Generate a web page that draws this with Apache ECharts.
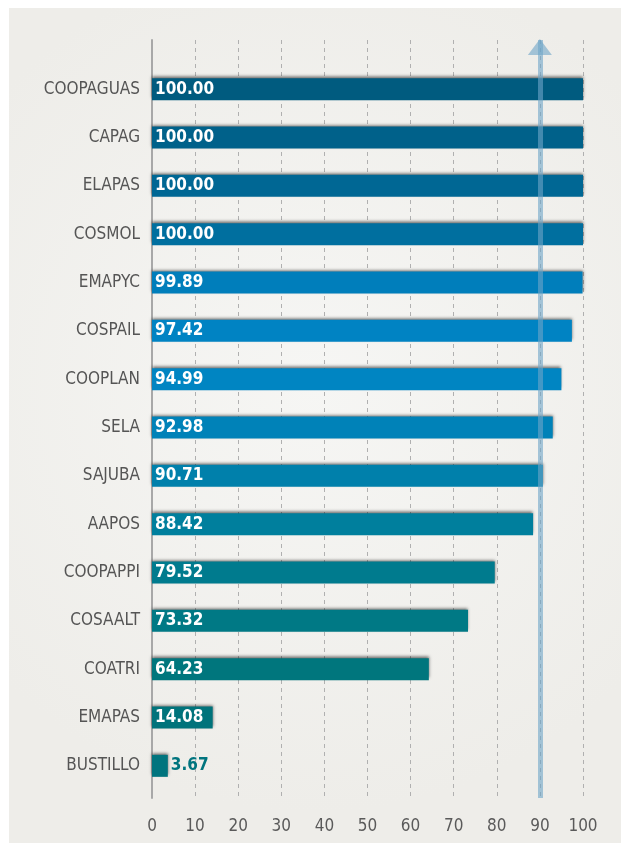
<!DOCTYPE html>
<html><head><meta charset="utf-8">
<script src="https://cdn.jsdelivr.net/npm/echarts@6/dist/echarts.min.js"></script>
<style>html,body{margin:0;padding:0;background:#fff}#c{width:621px;height:844px}</style>
</head><body><div id="c"></div>
<script>
const categories = ["COOPAGUAS","CAPAG","ELAPAS","COSMOL","EMAPYC","COSPAIL","COOPLAN","SELA","SAJUBA","AAPOS","COOPAPPI","COSAALT","COATRI","EMAPAS","BUSTILLO"];
const values = [100.00,100.00,100.00,100.00,99.89,97.42,94.99,92.98,90.71,88.42,79.52,73.32,64.23,14.08,3.67];
const barColors = ["#005b7f","#00618a","#006794","#006f9f","#007ebb","#0083c3","#0085c2","#0082b8","#0080ab","#007f9d","#007b8e","#007985","#00767d","#00737b","#00747e"];
const xTicks = [0,10,20,30,40,50,60,70,80,90,100];
const targetValue = 90;

const FONT = '"Liberation Sans Narrow","DejaVu Sans Condensed","Roboto Condensed",sans-serif';
const chart = echarts.init(document.getElementById('c'), null, {renderer:'canvas'});
chart.setOption({
  backgroundColor:'#ffffff',
  animation:false,
  graphic:[{type:'rect', z:-10, shape:{x:9,y:8,width:612,height:835},
    style:{fill:new echarts.graphic.RadialGradient(0.5,0.45,0.7,[{offset:0,color:'#f6f6f4'},{offset:1,color:'#eeede9'}])}}],
  grid:[
    {left:152,right:38,top:40,bottom:46},
    {left:152,right:38,top:65,bottom:54}
  ],
  xAxis:[
    {type:'value',gridIndex:0,min:0,max:100,interval:10,
     axisLine:{show:false},axisTick:{show:false},
     axisLabel:{margin:20,color:'#5a5a5a',fontSize:17,fontFamily:FONT,
       formatter:v=>xTicks.includes(v)?String(v):''},
     splitLine:{show:true,lineStyle:{color:'#b0b0b0',type:[4,4],width:1}}},
    {type:'value',gridIndex:1,min:0,max:100,show:false,splitLine:{show:false}}
  ],
  yAxis:[
    {type:'value',gridIndex:0,min:0,max:1,
     axisLine:{show:true,lineStyle:{color:'#a8a8a8',width:2}},
     axisTick:{show:false},axisLabel:{show:false},splitLine:{show:false}},
    {type:'category',gridIndex:1,data:categories,inverse:true,
     axisLine:{show:false},axisTick:{show:false},
     axisLabel:{margin:12,color:'#555555',fontSize:17,fontFamily:FONT},
     splitLine:{show:false}}
  ],
  series:[
    {type:'bar',xAxisIndex:1,yAxisIndex:1,barWidth:22,z:3,
     data:values.map((v,i)=>({value:v,itemStyle:{color:barColors[i]},
       label: v<10 ? {position:'right',distance:3,color:barColors[i]} : {position:'insideLeft',distance:3,color:'#ffffff'}})),
     itemStyle:{shadowColor:'rgba(0,0,0,0.55)',shadowBlur:3,shadowOffsetY:-2},
     label:{show:true,fontFamily:FONT,fontWeight:'bold',fontSize:17,
       formatter:p=>p.value.toFixed(2)}},
    {type:'scatter',xAxisIndex:0,yAxisIndex:0,data:[],z:5,
     markLine:{silent:true,symbol:['none','triangle'],symbolSize:[24,16],
       symbolOffset:[0,[0,7]],
       label:{show:false},
       lineStyle:{color:'rgba(110,165,200,0.6)',width:5,type:'solid'},
       data:[[{coord:[targetValue,0]},{coord:[targetValue,1]}]]}}
  ]
});
</script></body></html>
